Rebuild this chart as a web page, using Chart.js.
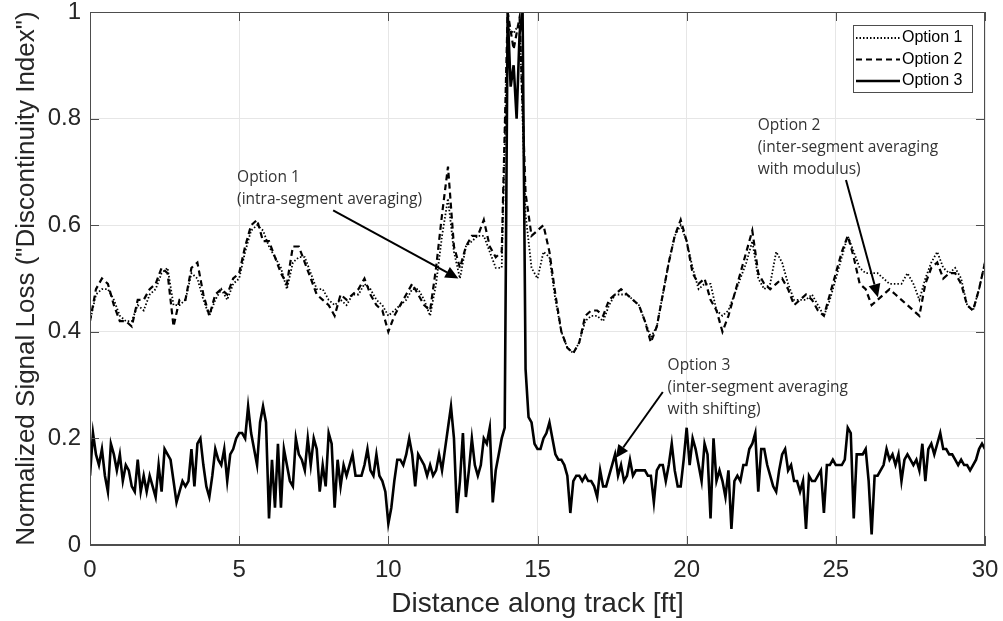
<!DOCTYPE html>
<html>
<head>
<meta charset="utf-8">
<script src="https://cdn.jsdelivr.net/npm/chart.js@4.4.1/dist/chart.umd.min.js"></script>
<style>
  html, body { margin: 0; padding: 0; background: #fff; }
  #wrap { width: 1003px; height: 621px; }
</style>
</head>
<body>
<div id="wrap"><canvas id="signal-loss" width="1003" height="621"></canvas></div>
<script>
// sampling grids (ft)
const coarseStep = 0.2;
const fineStep = 0.1;

// Option 1 - intra-segment averaging (every 0.2 ft)
const option1 = [
  0.42, 0.47, 0.48, 0.48, 0.46,
  0.43, 0.42, 0.42, 0.45, 0.44,
  0.47, 0.48, 0.51, 0.52, 0.45,
  0.45, 0.46, 0.51, 0.50, 0.46,
  0.43, 0.46, 0.48, 0.46, 0.49,
  0.50, 0.55, 0.59, 0.60, 0.59,
  0.56, 0.54, 0.52, 0.48, 0.53,
  0.54, 0.54, 0.51, 0.48, 0.48,
  0.46, 0.45, 0.46, 0.45, 0.47,
  0.47, 0.49, 0.48, 0.46, 0.45,
  0.43, 0.44, 0.45, 0.46, 0.48,
  0.48, 0.46, 0.43, 0.49, 0.58,
  0.65, 0.55, 0.50, 0.56, 0.57,
  0.58, 0.58, 0.55, 0.52, 0.52,
  0.97, 0.96, 0.98, 0.62, 0.52,
  0.50, 0.55, 0.54, 0.46, 0.40,
  0.37, 0.36, 0.38, 0.42, 0.43,
  0.43, 0.42, 0.45, 0.47, 0.47,
  0.47, 0.46, 0.45, 0.42, 0.39,
  0.41, 0.47, 0.53, 0.58, 0.60,
  0.57, 0.52, 0.48, 0.49, 0.49,
  0.44, 0.43, 0.44, 0.47, 0.50,
  0.53, 0.57, 0.50, 0.48, 0.49,
  0.55, 0.53, 0.49, 0.46, 0.46,
  0.46, 0.47, 0.45, 0.43, 0.46,
  0.50, 0.54, 0.58, 0.55, 0.52,
  0.51, 0.51, 0.51, 0.50, 0.49,
  0.49, 0.49, 0.51, 0.49, 0.46,
  0.50, 0.53, 0.55, 0.52, 0.51,
  0.52, 0.50, 0.45, 0.44, 0.48,
  0.53
];

// Option 2 - inter-segment averaging with modulus (every 0.2 ft)
const option2 = [
  0.42, 0.48, 0.50, 0.49, 0.45,
  0.42, 0.42, 0.41, 0.46, 0.46,
  0.48, 0.49, 0.52, 0.51, 0.41,
  0.46, 0.46, 0.52, 0.53, 0.47,
  0.43, 0.47, 0.48, 0.47, 0.50,
  0.51, 0.56, 0.60, 0.61, 0.57,
  0.57, 0.54, 0.51, 0.49, 0.56,
  0.56, 0.53, 0.50, 0.47, 0.46,
  0.45, 0.43, 0.47, 0.46, 0.47,
  0.48, 0.50, 0.47, 0.45, 0.44,
  0.40, 0.43, 0.45, 0.47, 0.49,
  0.47, 0.45, 0.44, 0.52, 0.62,
  0.71, 0.56, 0.52, 0.56, 0.58,
  0.58, 0.61, 0.56, 0.54, 0.55,
  1.00, 0.93, 0.99, 0.66, 0.58,
  0.59, 0.60, 0.55, 0.47, 0.40,
  0.37, 0.36, 0.38, 0.43, 0.44,
  0.44, 0.43, 0.46, 0.47, 0.48,
  0.47, 0.46, 0.45, 0.42, 0.38,
  0.41, 0.47, 0.53, 0.58, 0.61,
  0.57, 0.51, 0.49, 0.50, 0.46,
  0.44, 0.40, 0.43, 0.47, 0.51,
  0.55, 0.59, 0.51, 0.49, 0.48,
  0.49, 0.50, 0.48, 0.45, 0.46,
  0.47, 0.46, 0.44, 0.43, 0.47,
  0.51, 0.55, 0.58, 0.54, 0.49,
  0.48, 0.45, 0.46, 0.47, 0.48,
  0.47, 0.46, 0.45, 0.44, 0.43,
  0.49, 0.52, 0.53, 0.50, 0.51,
  0.51, 0.49, 0.45, 0.44, 0.48,
  0.53
];

// Option 3 - inter-segment averaging with shifting (every 0.1 ft)
const option3 = [
  0.13, 0.21, 0.17, 0.15, 0.18, 0.13, 0.10, 0.19, 0.17, 0.14,
  0.17, 0.12, 0.15, 0.14, 0.11, 0.10, 0.16, 0.10, 0.13, 0.10,
  0.13, 0.11, 0.09, 0.15, 0.10, 0.18, 0.17, 0.16, 0.12, 0.08,
  0.10, 0.12, 0.11, 0.12, 0.18, 0.11, 0.19, 0.20, 0.15, 0.11,
  0.09, 0.13, 0.18, 0.16, 0.15, 0.18, 0.12, 0.17, 0.18, 0.20,
  0.21, 0.21, 0.20, 0.26, 0.21, 0.18, 0.15, 0.23, 0.26, 0.23,
  0.05, 0.16, 0.07, 0.19, 0.07, 0.18, 0.15, 0.12, 0.11, 0.20,
  0.17, 0.16, 0.14, 0.20, 0.15, 0.20, 0.18, 0.10, 0.15, 0.11,
  0.21, 0.19, 0.07, 0.16, 0.11, 0.15, 0.13, 0.15, 0.17, 0.13,
  0.13, 0.13, 0.15, 0.18, 0.14, 0.13, 0.17, 0.13, 0.12, 0.10,
  0.04, 0.07, 0.12, 0.16, 0.16, 0.15, 0.17, 0.20, 0.17, 0.11,
  0.17, 0.16, 0.15, 0.13, 0.15, 0.13, 0.14, 0.17, 0.14, 0.18,
  0.22, 0.26, 0.20, 0.06, 0.12, 0.21, 0.09, 0.14, 0.20, 0.15,
  0.13, 0.15, 0.20, 0.19, 0.22, 0.08, 0.14, 0.17, 0.20, 0.22,
  1.00, 0.86, 0.90, 0.80, 0.96, 1.00, 0.33, 0.24, 0.23, 0.19,
  0.18, 0.18, 0.20, 0.21, 0.23, 0.20, 0.17, 0.16, 0.16, 0.15,
  0.13, 0.06, 0.12, 0.13, 0.13, 0.12, 0.13, 0.12, 0.12, 0.11,
  0.09, 0.14, 0.11, 0.11, 0.13, 0.15, 0.17, 0.13, 0.15, 0.12,
  0.13, 0.16, 0.13, 0.14, 0.14, 0.14, 0.14, 0.13, 0.13, 0.08,
  0.14, 0.15, 0.15, 0.12, 0.15, 0.19, 0.14, 0.11, 0.11, 0.16,
  0.22, 0.15, 0.20, 0.18, 0.15, 0.12, 0.19, 0.17, 0.05, 0.20,
  0.12, 0.14, 0.12, 0.09, 0.14, 0.03, 0.12, 0.13, 0.12, 0.15,
  0.15, 0.18, 0.19, 0.21, 0.10, 0.18, 0.18, 0.15, 0.13, 0.11,
  0.10, 0.14, 0.17, 0.18, 0.14, 0.15, 0.12, 0.12, 0.10, 0.12,
  0.03, 0.13, 0.12, 0.12, 0.13, 0.14, 0.06, 0.15, 0.15, 0.16,
  0.15, 0.15, 0.15, 0.16, 0.22, 0.21, 0.05, 0.17, 0.17, 0.17,
  0.18, 0.12, 0.02, 0.13, 0.13, 0.14, 0.15, 0.18, 0.16, 0.17,
  0.15, 0.17, 0.12, 0.16, 0.17, 0.16, 0.15, 0.16, 0.14, 0.19,
  0.12, 0.18, 0.19, 0.17, 0.19, 0.21, 0.18, 0.18, 0.17, 0.17,
  0.16, 0.15, 0.16, 0.15, 0.15, 0.14, 0.15, 0.16, 0.18, 0.19,
  0.18
];

const xTicks = [0, 5, 10, 15, 20, 25, 30];
const yTicks = [0, 0.2, 0.4, 0.6, 0.8, 1];

// text callouts: text anchor (first line), arrow tail and arrow tip, in data units
const callouts = [
  { lines: ['Option 1', '(intra-segment averaging)'], at: [4.93, 0.689], from: [8.15, 0.628], to: [12.35, 0.50] },
  { lines: ['Option 2', '(inter-segment averaging', 'with modulus)'], at: [22.38, 0.786], from: [25.34, 0.685], to: [26.41, 0.465] },
  { lines: ['Option 3', '(inter-segment averaging', 'with shifting)'], at: [19.36, 0.336], from: [19.2, 0.287], to: [17.62, 0.163] }
];

const seriesStyle = [
  { label: 'Option 1', data: option1, step: coarseStep, width: 1.8, dash: [1.5, 2] },
  { label: 'Option 2', data: option2, step: coarseStep, width: 2.2, dash: [6, 4] },
  { label: 'Option 3', data: option3, step: fineStep, width: 2.6, dash: [] }
];

function toPoints(values, step) {
  return values.map((v, i) => ({ x: +(i * step).toFixed(2), y: v }));
}

const axisColor = '#4d4d4d';
const textColor = '#262626';

function drawArrow(ctx, x1, y1, x2, y2) {
  const ang = Math.atan2(y2 - y1, x2 - x1);
  const head = 13, half = 6;
  const bx = x2 - head * Math.cos(ang), by = y2 - head * Math.sin(ang);
  ctx.beginPath();
  ctx.moveTo(x1, y1);
  ctx.lineTo(bx, by);
  ctx.stroke();
  ctx.beginPath();
  ctx.moveTo(x2, y2);
  ctx.lineTo(bx + half * Math.sin(ang), by - half * Math.cos(ang));
  ctx.lineTo(bx - half * Math.sin(ang), by + half * Math.cos(ang));
  ctx.closePath();
  ctx.fill();
}

const decorPlugin = {
  id: 'decor',
  afterDraw(chart) {
    const { ctx, chartArea: a, scales: { x, y } } = chart;
    ctx.save();

    // box + inward ticks (matlab style)
    ctx.strokeStyle = axisColor;
    ctx.lineWidth = 1;
    ctx.strokeRect(a.left + 0.5, a.top + 0.5, a.right - a.left - 1, a.bottom - a.top - 1);
    ctx.beginPath();
    xTicks.forEach(t => {
      const px = Math.round(x.getPixelForValue(t)) + 0.5;
      ctx.moveTo(px, a.bottom); ctx.lineTo(px, a.bottom - 9);
      ctx.moveTo(px, a.top); ctx.lineTo(px, a.top + 9);
    });
    yTicks.forEach(t => {
      const py = Math.round(y.getPixelForValue(t)) + 0.5;
      ctx.moveTo(a.left, py); ctx.lineTo(a.left + 9, py);
      ctx.moveTo(a.right, py); ctx.lineTo(a.right - 9, py);
    });
    ctx.stroke();

    // callouts
    ctx.strokeStyle = '#000';
    ctx.lineWidth = 2;
    ctx.font = '15.5px "Open Sans"';
    ctx.textBaseline = 'middle';
    ctx.textAlign = 'left';
    callouts.forEach(c => {
      const tx = x.getPixelForValue(c.at[0]);
      const ty = y.getPixelForValue(c.at[1]);
      ctx.fillStyle = '#333';
      c.lines.forEach((ln, i) => ctx.fillText(ln, tx, ty + i * 22));
      ctx.fillStyle = '#000';
      drawArrow(ctx, x.getPixelForValue(c.from[0]), y.getPixelForValue(c.from[1]),
                x.getPixelForValue(c.to[0]), y.getPixelForValue(c.to[1]));
    });

    // legend box
    const lw = 119, lh = 67;
    const lx = a.right - 13 - lw, ly = a.top + 13;
    ctx.fillStyle = '#fff';
    ctx.fillRect(lx, ly, lw, lh);
    ctx.strokeStyle = axisColor;
    ctx.lineWidth = 1;
    ctx.strokeRect(lx + 0.5, ly + 0.5, lw, lh);
    ctx.font = '16px "Liberation Sans", Arial, sans-serif';
    chart.data.datasets.forEach((ds, i) => {
      const ey = ly + 13 + i * 21.5;
      ctx.strokeStyle = '#000';
      ctx.lineWidth = ds.borderWidth;
      ctx.setLineDash(ds.borderDash);
      ctx.beginPath();
      ctx.moveTo(lx + 3, ey);
      ctx.lineTo(lx + 47, ey);
      ctx.stroke();
      ctx.setLineDash([]);
      ctx.fillStyle = '#000';
      ctx.fillText(ds.label, lx + 49, ey);
    });
    ctx.restore();
  }
};

const tickFont = { family: '"Liberation Sans", Arial, sans-serif', size: 24, lineHeight: 1 };

// keep the plot box exactly where the layout padding puts it
function noOverflow(s) {
  s.paddingTop = 0; s.paddingBottom = 0; s.paddingLeft = 0; s.paddingRight = 0;
}

new Chart(document.getElementById('signal-loss'), {
  type: 'line',
  data: {
    datasets: seriesStyle.map(s => ({
      label: s.label,
      data: toPoints(s.data, s.step),
      borderColor: '#000',
      borderWidth: s.width,
      borderDash: s.dash,
      pointRadius: 0,
      tension: 0,
      fill: false
    }))
  },
  options: {
    responsive: false,
    animation: false,
    layout: { padding: { top: 12, right: 18, left: 0, bottom: 0 } },
    plugins: { legend: { display: false }, tooltip: { enabled: false } },
    scales: {
      x: {
        type: 'linear',
        min: 0, max: 30,
        afterBuildTicks: s => { s.ticks = xTicks.map(v => ({ value: v })); },
        afterFit: s => { s.height = 76; noOverflow(s); },
        ticks: { font: tickFont, color: textColor, padding: 13, maxRotation: 0 },
        grid: { color: '#e6e6e6', drawTicks: false },
        border: { color: axisColor },
        title: {
          display: true,
          text: 'Distance along track [ft]',
          font: { family: '"Liberation Sans", Arial, sans-serif', size: 28 },
          color: textColor,
          padding: { top: 0, bottom: 0 }
        }
      },
      y: {
        min: 0, max: 1,
        afterBuildTicks: s => { s.ticks = yTicks.map(v => ({ value: v })); },
        afterFit: s => { s.width = 90; noOverflow(s); },
        ticks: { font: tickFont, color: textColor, padding: 9, callback: v => String(+v.toFixed(1)) },
        grid: { color: '#e6e6e6', drawTicks: false },
        border: { color: axisColor },
        title: {
          display: true,
          text: 'Normalized Signal Loss ("Discontinuity Index")',
          font: { family: '"Liberation Sans", Arial, sans-serif', size: 26 },
          color: textColor,
          padding: { top: 11, bottom: 0 }
        }
      }
    }
  },
  plugins: [decorPlugin]
});
</script>
</body>
</html>
